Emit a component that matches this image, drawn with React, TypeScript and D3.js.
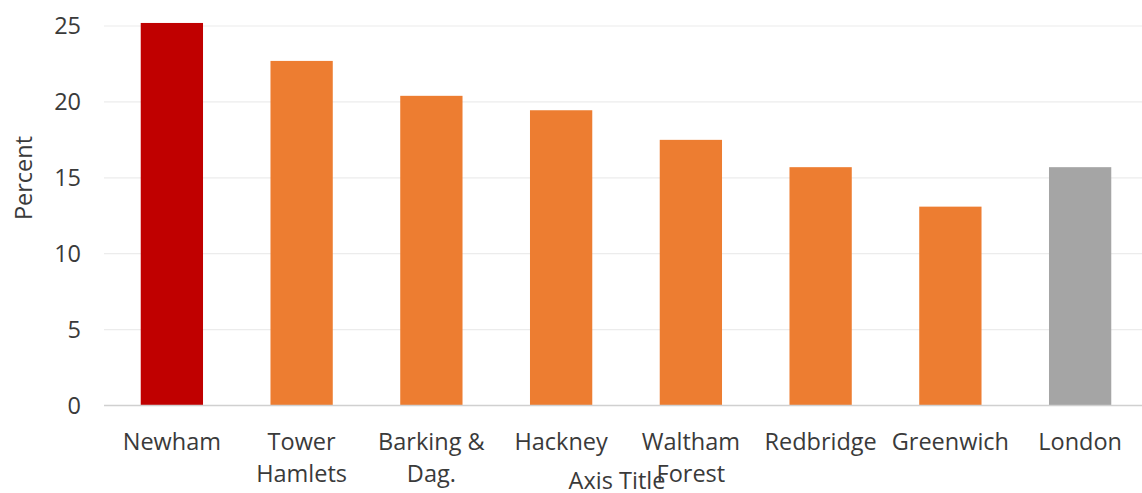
import React from "react";
import * as d3 from "d3";

// Share of residents (percent) by borough, with the London average
const categories = ["Newham", "Tower Hamlets", "Barking & Dag.", "Hackney", "Waltham Forest", "Redbridge", "Greenwich", "London"];
const values = [25.2, 22.7, 20.4, 19.45, 17.5, 15.7, 13.1, 15.7];
const barColors = ["#C00000", "#ED7D31", "#ED7D31", "#ED7D31", "#ED7D31", "#ED7D31", "#ED7D31", "#A5A5A5"];
const yTicks = [0, 5, 10, 15, 20, 25];
const yAxisTitle = "Percent";
const xAxisTitle = "Axis Title";

const W = 1142;
const H = 493;
const FONT = "'Open Sans', 'Liberation Sans', sans-serif";
const TEXT = "#3a3a3a";
const FS = 23.5;

// Break a long multi-word label onto two lines at its last space
function wrapLabel(label: string): string[] {
  if (label.length > 9 && label.includes(" ")) {
    const i = label.lastIndexOf(" ");
    return [label.slice(0, i), label.slice(i + 1)];
  }
  return [label];
}

export default function App() {
  const x = d3.scaleBand<string>().domain(categories).range([107, 1145]).paddingInner(0.52).paddingOuter(0.26);
  const y = d3.scaleLinear().domain([0, 25]).range([405.5, 26]);

  return (
    <div style={{ position: "fixed", left: 0, top: 0 }}>
      <svg width={W} height={H} style={{ display: "block", background: "#fff" }} fontFamily={FONT}>
        {yTicks.filter((t) => t > 0).map((t) => (
          <line key={"g" + t} x1={104} x2={W} y1={y(t)} y2={y(t)} stroke="#ececec" strokeWidth={1.2} />
        ))}
        {yTicks.map((t) => (
          <text key={"t" + t} x={81} y={y(t)} dy="0.36em" textAnchor="end" fontSize={FS} fill={TEXT}>
            {t}
          </text>
        ))}
        {categories.map((c, i) => (
          <rect key={c} x={x(c)} width={x.bandwidth()} y={y(values[i])} height={y(0) - y(values[i])} fill={barColors[i]} />
        ))}
        <line x1={104} x2={W} y1={y(0)} y2={y(0)} stroke="#d0d0d0" strokeWidth={1.5} />
        {categories.map((c) => {
          const lines = wrapLabel(c);
          const cx = (x(c) as number) + x.bandwidth() / 2;
          return (
            <text key={"l" + c} x={cx} y={450} textAnchor="middle" fontSize={FS} fill={TEXT}>
              {lines.map((ln, j) => (
                <tspan key={j} x={cx} dy={j === 0 ? 0 : 32}>
                  {ln}
                </tspan>
              ))}
            </text>
          );
        })}
        <text transform="translate(32,178) rotate(-90)" textAnchor="middle" fontSize={FS} fill={TEXT}>
          {yAxisTitle}
        </text>
        <text x={617} y={489} textAnchor="middle" fontSize={FS} fill={TEXT}>
          {xAxisTitle}
        </text>
      </svg>
    </div>
  );
}
